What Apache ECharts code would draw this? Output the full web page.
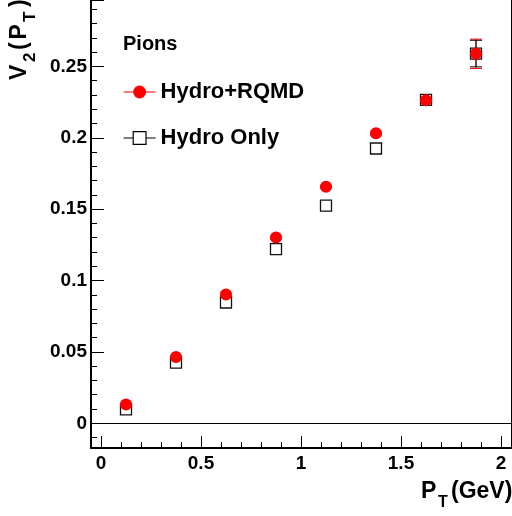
<!DOCTYPE html>
<html>
<head>
<meta charset="utf-8">
<script src="https://cdn.jsdelivr.net/npm/echarts@6/dist/echarts.min.js"></script>
<style>
html,body{margin:0;padding:0;background:#fff;}
#chart{width:512px;height:516px;}
</style>
</head>
<body>
<div id="chart"></div>
<script>
// ---- data ----
const ptValues   = [0.125, 0.375, 0.625, 0.875, 1.125, 1.375, 1.625, 1.875];
const rqmdV2     = [0.0132, 0.0464, 0.0902, 0.1302, 0.1657, 0.2031, 0.2262, 0.2588];
const rqmdErr    = [0.001, 0.001, 0.001, 0.001, 0.001, 0.001, 0.001, 0.0103];
const hydroV2    = [0.0098, 0.0425, 0.0846, 0.1220, 0.1525, 0.1925, 0.2265, 0.2590];
const hydroErr   = [0.001, 0.001, 0.001, 0.001, 0.001, 0.001, 0.001, 0.0093];
const seriesNames = ['Hydro+RQMD', 'Hydro Only'];
const legendTitle = 'Pions';

const FONT = '"Liberation Sans", Arial, Helvetica, sans-serif';

const rqmdPts  = ptValues.map((x, i) => [x, rqmdV2[i]]);
const hydroPts = ptValues.map((x, i) => [x, hydroV2[i]]);
const rqmdErrPts  = ptValues.map((x, i) => [x, rqmdV2[i], rqmdErr[i]]);
const hydroErrPts = ptValues.map((x, i) => [x, hydroV2[i], hydroErr[i]]);

function errorBars(color) {
  return function (params, api) {
    const x = api.value(0), y = api.value(1), e = api.value(2);
    const top = api.coord([x, y + e]);
    const bot = api.coord([x, y - e]);
    const hw = 6;
    const st = { stroke: color, lineWidth: 1 };
    return {
      type: 'group',
      children: [
        { type: 'line', shape: { x1: top[0], y1: top[1], x2: bot[0], y2: bot[1] }, style: st },
        { type: 'line', shape: { x1: top[0] - hw, y1: top[1], x2: top[0] + hw, y2: top[1] }, style: st },
        { type: 'line', shape: { x1: bot[0] - hw, y1: bot[1], x2: bot[0] + hw, y2: bot[1] }, style: st }
      ]
    };
  };
}

const chart = echarts.init(document.getElementById('chart'), null, { renderer: 'canvas' });

const labelStyle = { fontSize: 19, fontWeight: 'bold', color: '#000', fontFamily: FONT };
const txt = (text, size) => ({ text: text, font: 'bold ' + size + 'px ' + FONT, fill: '#000',
  textAlign: 'left', textVerticalAlign: 'middle', align: 'left', verticalAlign: 'middle' });

const Y_MIN = -0.0173, Y_MAX = 0.2965;

const option = {
  animation: false,
  backgroundColor: '#fff',
  title: {
    text: legendTitle,
    left: 123, top: 34, padding: 0,
    textStyle: { fontSize: 20, fontWeight: 'bold', color: '#000', fontFamily: FONT }
  },
  legend: {
    orient: 'vertical',
    left: 123, top: 81,
    itemWidth: 32, itemHeight: 16, itemGap: 24,
    padding: 0,
    selectedMode: false,
    textStyle: { fontSize: 22, fontWeight: 'bold', color: '#000', fontFamily: FONT },
    data: [
      { name: seriesNames[0], lineStyle: { color: '#ff0000', width: 1.2, opacity: 1 },
        itemStyle: { color: '#ff0000', borderWidth: 0, opacity: 1 } },
      { name: seriesNames[1], lineStyle: { color: '#000', width: 1.2, opacity: 1 },
        itemStyle: { color: '#fff', borderColor: '#000', borderWidth: 1.2, opacity: 1 } }
    ]
  },
  grid: {
    left: 91, right: 1, top: 0, bottom: 68,
    show: false
  },
  xAxis: {
    type: 'value', min: -0.05, max: 2.05, splitNumber: 5,
    axisLine: { show: true, onZero: false, lineStyle: { color: '#000', width: 2 } },
    axisTick: { show: true, inside: true, length: 12, lineStyle: { color: '#000', width: 1 } },
    minorTick: { show: true, splitNumber: 5, length: 6, lineStyle: { color: '#000', width: 1 } },
    axisLabel: Object.assign({ showMinLabel: false, showMaxLabel: false, margin: 6 }, labelStyle),
    splitLine: { show: false }
  },
  yAxis: [
    {
      type: 'value', min: Y_MIN, max: Y_MAX, splitNumber: 6,
      axisLine: { show: true, onZero: false, lineStyle: { color: '#000', width: 2 } },
      axisTick: { show: true, inside: true, length: 13, lineStyle: { color: '#000', width: 1 } },
      minorTick: { show: true, splitNumber: 5, length: 6, lineStyle: { color: '#000', width: 1 } },
      axisLabel: Object.assign({ showMinLabel: false, showMaxLabel: false, margin: 4 }, labelStyle),
      splitLine: { show: false }
    },
    {
      type: 'value', position: 'right', min: Y_MIN, max: Y_MAX,
      axisLine: { show: true, onZero: false, lineStyle: { color: '#000', width: 1 } },
      axisTick: { show: false }, axisLabel: { show: false }, splitLine: { show: false }
    }
  ],
  graphic: [
    // x-axis title: P_T (GeV)
    { type: 'text', x: 421, y: 492, style: txt('P', 23) },
    { type: 'text', x: 438, y: 503, style: txt('T', 16) },
    { type: 'text', x: 451, y: 492, style: txt('(GeV)', 23) },
    // y-axis title: V_2(P_T), rotated
    {
      type: 'group', x: 19.5, y: 80, rotation: Math.PI / 2,
      children: [
        { type: 'text', x: 0, y: 0, style: txt('V', 23) },
        { type: 'text', x: 18, y: 11, style: txt('2', 17) },
        { type: 'text', x: 30, y: 0, style: txt('(', 23) },
        { type: 'text', x: 40.5, y: 0, style: txt('P', 23) },
        { type: 'text', x: 58, y: 10.5, style: txt('T', 17) },
        { type: 'text', x: 73, y: 0, style: txt(')', 23) }
      ]
    }
  ],
  series: [
    {
      type: 'custom', name: 'rqmdErr', renderItem: errorBars('#ff0000'),
      data: rqmdErrPts, encode: { x: 0, y: 1 }, z: 3, silent: true,
      markLine: {
        silent: true, symbol: ['none', 'none'], label: { show: false },
        lineStyle: { color: '#000', width: 1, type: 'solid' },
        data: [{ yAxis: 0 }]
      }
    },
    {
      type: 'custom', name: 'hydroErr', renderItem: errorBars('#000'),
      data: hydroErrPts, encode: { x: 0, y: 1 }, z: 3, silent: true
    },
    {
      type: 'line', name: seriesNames[1], data: hydroPts,
      symbol: 'rect', symbolSize: 11, showSymbol: true,
      lineStyle: { width: 0 },
      itemStyle: { color: '#fff', borderColor: '#111', borderWidth: 1.3 },
      z: 4
    },
    {
      type: 'line', name: seriesNames[0], data: rqmdPts,
      symbol: 'circle', symbolSize: 12, showSymbol: true,
      lineStyle: { width: 0 },
      itemStyle: { color: '#ff0000', borderWidth: 0 },
      z: 5
    }
  ]
};

chart.setOption(option);
</script>
</body>
</html>
